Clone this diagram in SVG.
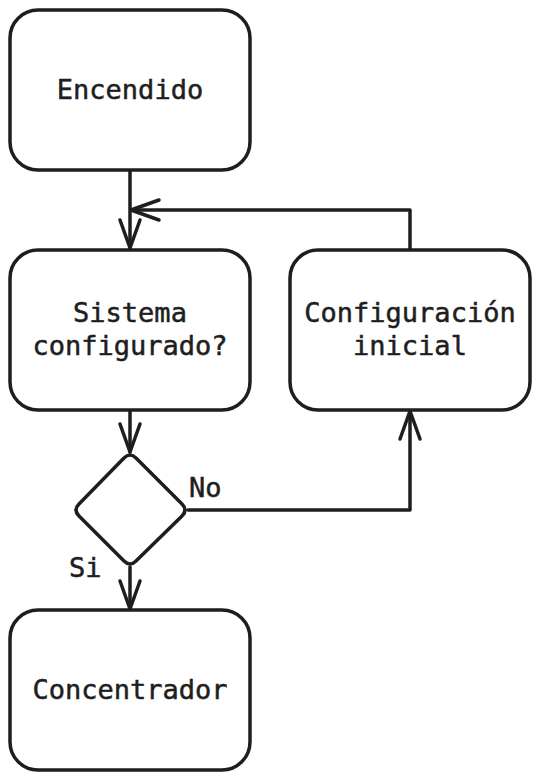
<svg xmlns="http://www.w3.org/2000/svg" width="540" height="780" viewBox="0 0 540 780">
<defs>
<style>
.box{fill:#fff;stroke:#1e1e1e;stroke-width:3.5}
.t{font-family:"DejaVu Sans Mono","Liberation Mono",monospace;font-size:27px;fill:#1e1e1e;stroke:#1e1e1e;stroke-width:0.5;text-anchor:middle}
.lbl{font-family:"DejaVu Sans Mono","Liberation Mono",monospace;font-size:27px;fill:#1e1e1e;stroke:#1e1e1e;stroke-width:0.5}
.c{fill:none;stroke:#1e1e1e;stroke-width:3.5;stroke-linejoin:round;stroke-linecap:round}
</style>
<marker id="ah" markerUnits="userSpaceOnUse" markerWidth="40" markerHeight="30" viewBox="-32 -15 40 30" refX="0" refY="0" orient="auto" overflow="visible">
<path d="M-28 -10 L0 0 L-28 10" fill="none" stroke="#1e1e1e" stroke-width="3.5" stroke-linecap="round" stroke-linejoin="round"/>
</marker>
</defs>
<rect width="540" height="780" fill="#fff"/>
<g id="connectors">
<path class="c" d="M130 171 L130 248" marker-end="url(#ah)"/>
<path class="c" d="M410 249 L410 210 L131 210" marker-end="url(#ah)"/>
<path class="c" d="M130 411 L130 452" marker-end="url(#ah)"/>
<path class="c" d="M188 510 L410 510 L410 411" marker-end="url(#ah)"/>
<path class="c" d="M130 567 L130 609" marker-end="url(#ah)"/>
</g>
<g id="encendido">
<rect class="box" x="10" y="10" width="240" height="160" rx="28"/>
<text class="t" x="130" y="99">Encendido</text>
</g>
<g id="sistema">
<rect class="box" x="10" y="250" width="240" height="160" rx="28"/>
<text class="t" x="130" y="322">Sistema</text>
<text class="t" x="130" y="355">configurado?</text>
</g>
<g id="configuracion">
<rect class="box" x="290" y="250" width="240" height="160" rx="28"/>
<text class="t" x="410" y="322">Configuración</text>
<text class="t" x="410" y="355">inicial</text>
</g>
<g id="decision">
<path class="box" stroke-linejoin="round" d="M124 458 Q130 452 136 458 L182 504 Q188 510 182 516 L136 561 Q130 567 124 561 L79 516 Q73 510 79 504 Z"/>
</g>
<g id="concentrador">
<rect class="box" x="10" y="610" width="240" height="160" rx="28"/>
<text class="t" x="130" y="699">Concentrador</text>
</g>
<g id="labels">
<text class="lbl" x="189" y="497">No</text>
<text class="lbl" x="69" y="577">Si</text>
</g>
</svg>
